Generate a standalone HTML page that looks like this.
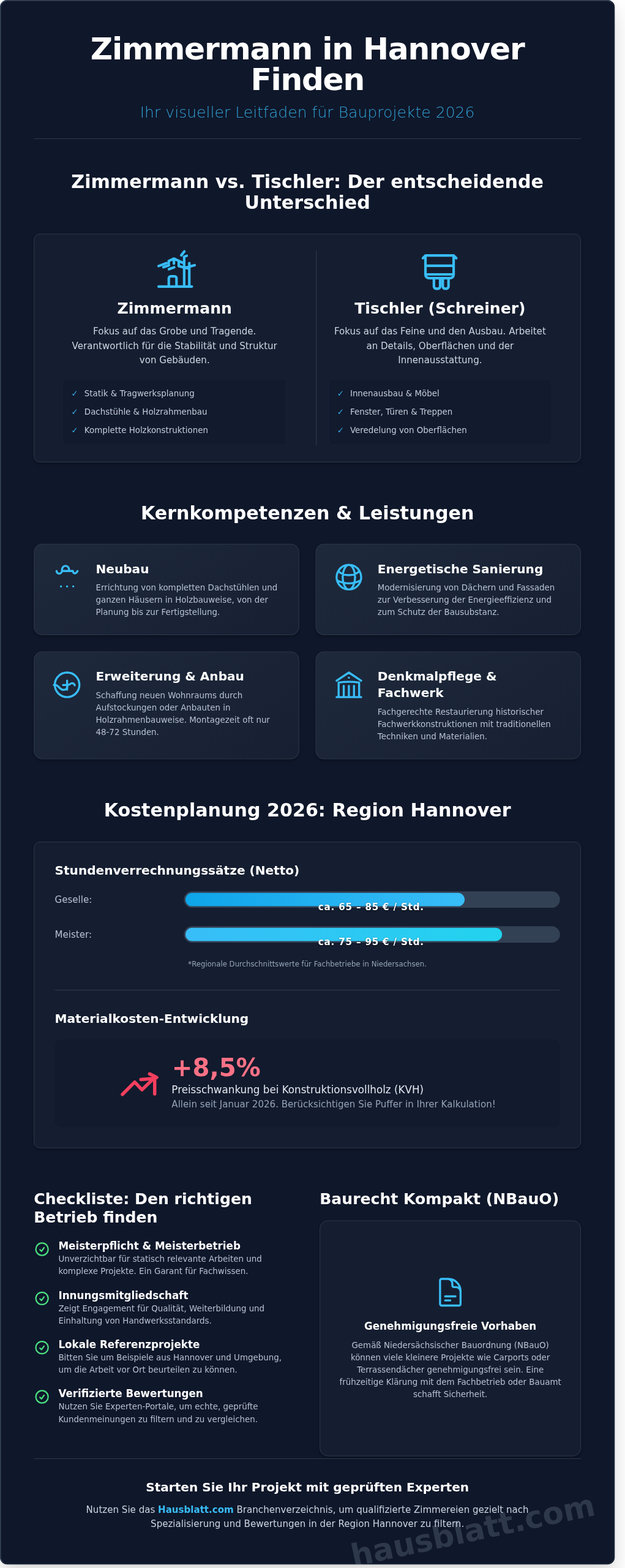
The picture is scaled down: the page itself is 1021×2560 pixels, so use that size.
<!DOCTYPE html>
<html lang="de">
<head>
<meta charset="utf-8">
<title>Zimmermann in Hannover Finden</title>
<style>
*{box-sizing:border-box;margin:0;padding:0}
html,body{width:1021px;height:2560px;overflow:hidden;background:#fff}
#scale{position:absolute;left:0;top:0;width:1220px;height:3059px;transform:scale(0.836885);transform-origin:0 0;font-family:"DejaVu Sans","Liberation Sans",sans-serif;color:#f1f5f9;font-size:16px;line-height:1.5}
.wrap{position:absolute;left:0;top:0;width:1200px;height:3052px;background:#0f172a;border-radius:14px;overflow:hidden;box-shadow:0 20px 40px rgba(0,0,0,.15)}
.edge{position:absolute;left:0;top:0;width:1200px;height:3052px;border:2px solid #334155;border-right-color:#1e293b;border-bottom-color:#1e293b;border-radius:14px}
.abs{position:absolute}
h1{position:absolute;left:66px;width:1068px;top:65px;font-size:60px;font-weight:bold;line-height:60px;letter-spacing:-1.5px;text-align:center;color:#fff}
.sub{position:absolute;left:66px;width:1068px;top:202.400px;font-size:30px;font-weight:300;color:#38bdf8;opacity:.82;text-align:center;line-height:36px}
.hr{position:absolute;left:66px;width:1068px;height:1px;background:#334155}
h2{position:absolute;left:66px;width:1068px;font-size:36px;font-weight:bold;text-align:center;color:#fff;line-height:40px}
.card{position:absolute;background:#151e30;border:1px solid #334155;border-radius:12px;box-shadow:0 4px 6px -1px rgba(0,0,0,.2),0 2px 4px -2px rgba(0,0,0,.2)}
svg{display:block}
.ic{fill:none;stroke:#38bdf8;stroke-width:1.5;stroke-linecap:round;stroke-linejoin:round}
/* compare */
.cmp .col{position:absolute;top:0;height:444px;text-align:center}
.cmp .col svg{position:absolute;left:50%;margin-left:-39px;top:32px;width:80px;height:80px}
.cmp h3{position:absolute;left:0;right:0;top:127.700px;font-size:30px;font-weight:bold;line-height:36px;color:#fff;white-space:nowrap}
.cmp p{position:absolute;left:-20px;right:-20px;top:176px;font-size:18px;line-height:28px;color:#cbd5e1}
.cmp ul{position:absolute;left:0;right:0;top:282.600px;height:128.600px;list-style:none;background:#121a2e;border:1px solid #1a2338;border-radius:8px;padding:15.500px 15px 0 16px;text-align:left}
.cmp li{font-size:16px;line-height:24px;margin-bottom:12px;color:#c3ccd9;white-space:nowrap}
.cmp li span{color:#38bdf8;margin-right:12px;opacity:.9}
.cmp .div{position:absolute;left:549.500px;top:32px;width:1px;height:379.500px;background:#334155}
/* services */
.svc{background:linear-gradient(145deg,#1e293b 0%,#162032 100%);padding:32px 32px 0 32px;border-radius:16px}
.svc svg{position:absolute;left:32px;top:32px;width:64px;height:64px}
.svc h3{margin-left:88px;font-size:24px;font-weight:bold;line-height:32px;color:#fff}
.svc p{margin-left:88px;margin-top:9.200px;font-size:16px;line-height:24px;color:#b6c1d1}
/* cost */
.cost h3{position:absolute;left:40px;font-size:24px;font-weight:bold;line-height:32px;color:#fff;white-space:nowrap}
.lbl{position:absolute;left:40px;font-size:18px;line-height:28px;color:#b6c1d1}
.track{position:absolute;left:291.500px;width:734px;height:32px;border-radius:16px;background:#334155}
.fill{position:absolute;left:3px;top:3px;height:26px;border-radius:14px}
.bt{position:absolute;left:-1px;width:734px;top:17px;text-align:center;font-size:18px;font-weight:bold;line-height:28px;letter-spacing:1px;color:#fff;text-shadow:0 1px 3px rgba(0,0,0,.6)}
.note{position:absolute;left:40px;width:986px;text-align:center;font-size:14px;line-height:20px;color:#94a3b8}
.inner{position:absolute;left:40px;width:986px;background:#121a2d;border-radius:12px}
/* checklist */
.h2l{position:absolute;font-size:30px;font-weight:bold;line-height:36px;color:#fff;text-align:left}
.chk{position:absolute;left:66px;width:500px}
.chk svg{position:absolute;left:0;top:4px;width:32px;height:32px;fill:none;stroke:#4ade80;stroke-width:2;stroke-linecap:round;stroke-linejoin:round}
.chk h4{margin-left:48px;font-size:20px;font-weight:bold;line-height:28px;color:#fff}
.chk p{margin-left:48px;font-size:16px;line-height:24px;color:#b6c1d1}
.law{text-align:center;border-radius:16px}
.law svg{margin:0 auto;width:64px;height:64px}
.law h4{font-size:20px;font-weight:bold;line-height:28px;color:#fff}
.law p{font-size:16px;line-height:24px;color:#b6c1d1}
.foot h3{font-size:24px;font-weight:bold;line-height:32px;color:#fff;text-align:center}
.foot p{font-size:18px;line-height:28px;color:#cbd5e1;text-align:center}
.foot b{color:#38bdf8}
.wm{position:absolute;font-size:60px;font-weight:bold;color:rgba(148,163,184,.24);transform:rotate(-12deg);transform-origin:0 100%;white-space:nowrap;line-height:1}

</style>
</head>
<body>
<div id="scale">
<div class="wrap">
<div class="edge"></div>
<h1>Zimmermann in Hannover<br>Finden</h1>
<p class="sub">Ihr visueller Leitfaden für Bauprojekte 2026</p>
<div class="hr" style="top:270px"></div>
<h2 style="top:335.300px">Zimmermann vs. Tischler: Der entscheidende<br>Unterschied</h2>
<div class="card cmp" style="left:66px;top:455.500px;width:1068px;height:446px">
  <div class="col" style="left:55.300px;width:437px">
    <svg viewBox="0 0 24 24" class="ic" style="overflow:visible"><path d="M2.25 21h19.5M8.25 21v-4.875c0-.621.504-1.125 1.125-1.125h2.25c.621 0 1.125.504 1.125 1.125V21M17.25 21V3.545M18.75 3l-1.5.545M20.25 21V7.3M15.55 2.75L17.35.45M2.25 9l4.5-1.636M5.1 9.7l3.2-1.1M8.3 10.85l3.1-1.13M8.2 7.9V6.07L11.25 4.67L17.25 7.5M11.25 4.67V7.6M14.1 6.1V9.05L19.4 10.35M17.25 10.1L23.4 8.5"/></svg>
    <h3>Zimmermann</h3>
    <p>Fokus auf das Grobe und Tragende.<br>Verantwortlich für die Stabilität und Struktur<br>von Gebäuden.</p>
    <ul><li><span>✓</span>Statik &amp; Tragwerksplanung</li><li><span>✓</span>Dachstühle &amp; Holzrahmenbau</li><li><span>✓</span>Komplette Holzkonstruktionen</li></ul>
  </div>
  <div class="div"></div>
  <div class="col" style="left:574px;width:436px">
    <svg viewBox="0 0 24 24" class="ic" style="overflow:visible;margin-left:-41px"><path d="M2.25 4.4 3.75 2.85h16.5l1.55 1.55M3.75 2.85V14c0 1.3 1 2.100 2.250 2.100h12c1.250 0 2.250-.8 2.250-2.100V2.850M3.750 8.850h16.500M3.750 13.900h16.500M8.700 16.100v4.800c0 .9.700 1.400 1.500 1.400h.650c.800 0 1.500-.5 1.500-1.400v-4.800M13.900 16.100v4.800c0 .9.700 1.400 1.500 1.400h.350c.800 0 1.500-.5 1.500-1.400v-4.800"/></svg>
    <h3>Tischler (Schreiner)</h3>
    <p>Fokus auf das Feine und den Ausbau. Arbeitet<br>an Details, Oberflächen und der<br>Innenausstattung.</p>
    <ul><li><span>✓</span>Innenausbau &amp; Möbel</li><li><span>✓</span>Fenster, Türen &amp; Treppen</li><li><span>✓</span>Veredelung von Oberflächen</li></ul>
  </div>
</div>
<h2 style="top:980.500px">Kernkompetenzen &amp; Leistungen</h2>
<div class="card svc" style="left:66px;top:1061px;width:518px;height:178px">
  <svg viewBox="0 0 24 24" class="ic"><path d="M4.25 7.5c.2 1.2 1 1.9 2 1.9 1.2 0 2-1 2-2.4 0-2 1-3.3 2.6-3.3s2.6 1.3 2.6 3.3v.5M8.25 7.5h8c.2 1.1.6 1.7 1.2 1.7.9 0 1.700-.700 2.200-1.700M7.500 18.750h.008v.008H7.500zM12 18.750h.008v.008H12zM16.500 18.750h.008v.008H16.500z"/></svg>
  <h3>Neubau</h3>
  <p>Errichtung von kompletten Dachstühlen und<br>ganzen Häusern in Holzbauweise, von der<br>Planung bis zur Fertigstellung.</p>
</div>
<div class="card svc" style="left:616px;top:1061px;width:518px;height:178px">
  <svg viewBox="0 0 24 24" class="ic"><path d="M12 21a9.004 9.004 0 0 0 8.716-6.747M12 21a9.004 9.004 0 0 1-8.716-6.747M12 21c2.485 0 4.500-4.030 4.500-9S14.485 3 12 3m0 18c-2.485 0-4.500-4.030-4.500-9S9.515 3 12 3m0 0a8.997 8.997 0 0 1 7.843 4.582M12 3a8.997 8.997 0 0 0-7.843 4.582m15.686 0A11.953 11.953 0 0 1 12 10.500c-2.998 0-5.740-1.100-7.843-2.918m15.686 0A8.959 8.959 0 0 1 21 12c0 .778-.099 1.533-.284 2.253m0 0A17.919 17.919 0 0 1 12 16.500c-3.162 0-6.133-.815-8.716-2.247m0 0A9.015 9.015 0 0 1 3 12c0-1.605.420-3.113 1.157-4.418"/></svg>
  <h3>Energetische Sanierung</h3>
  <p>Modernisierung von Dächern und Fassaden<br>zur Verbesserung der Energieeffizienz und<br>zum Schutz der Bausubstanz.</p>
</div>
<div class="card svc" style="left:66px;top:1271px;width:518px;height:210px">
  <svg viewBox="0 0 24 24" class="ic"><path d="M21 12a9 9 0 1 1-18 0 9 9 0 0 1 18 0ZM2.25 12.1h1.25c2 0 3.2 3.600 5.700 3.600 2 0 3.050-1.400 3.050-3.100M12 8.900v6.700M9 12.100h3.500c1.400 0 1.900-1.300 3.200-1.300 1 0 1.500.700 1.900 1.500"/></svg>
  <h3>Erweiterung &amp; Anbau</h3>
  <p>Schaffung neuen Wohnraums durch<br>Aufstockungen oder Anbauten in<br>Holzrahmenbauweise. Montagezeit oft nur<br>48-72 Stunden.</p>
</div>
<div class="card svc" style="left:616px;top:1271px;width:518px;height:210px">
  <svg viewBox="0 0 24 24" class="ic"><path d="M12 21v-8.250M15.750 21v-8.250M8.250 21v-8.250M3 9l9-6 9 6m-1.500 12V10.332A48.360 48.360 0 0 0 12 9.750c-2.551 0-5.056.200-7.500.582V21M3 21h18M12 6.750h.008v.008H12V6.750Z"/></svg>
  <h3>Denkmalpflege &amp;<br>Fachwerk</h3>
  <p>Fachgerechte Restaurierung historischer<br>Fachwerkkonstruktionen mit traditionellen<br>Techniken und Materialien.</p>
</div>
<h2 style="top:1561.200px">Kostenplanung 2026: Region Hannover</h2>
<div class="card cost" style="left:66px;top:1642px;width:1068px;height:598px">
  <h3 style="top:39px">Stundenverrechnungssätze (Netto)</h3>
  <div class="lbl" style="top:98px">Geselle:</div>
  <div class="track" style="top:96px"><div class="fill" style="width:545px;background:linear-gradient(90deg,#0ea5e9,#38bdf8)"></div><div class="bt">ca. 65 – 85 € / Std.</div></div>
  <div class="lbl" style="top:166px">Meister:</div>
  <div class="track" style="top:164px"><div class="fill" style="width:618px;background:linear-gradient(90deg,#38bdf8,#22d3ee)"></div><div class="bt">ca. 75 – 95 € / Std.</div></div>
  <div class="note" style="top:228px">*Regionale Durchschnittswerte für Fachbetriebe in Niedersachsen.</div>
  <div class="hr" style="left:40px;width:986px;top:288px"></div>
  <h3 style="top:328px">Materialkosten-Entwicklung</h3>
  <div class="inner" style="top:385px;height:171px">
    <svg class="abs" style="left:119.500px;top:47.200px;width:90px;height:90px" viewBox="0 0 90 90" fill="none" stroke="#f43f5e" stroke-width="6.500" stroke-linecap="round" stroke-linejoin="round"><path d="M12 60 36 36 50 51 72 30M48 31l26-2M65 20l14 7M75 30v29"/></svg>
    <div class="abs" style="left:228.500px;top:26px;font-size:48px;font-weight:bold;line-height:58px;color:#fb7185;white-space:nowrap">+8,5%</div>
    <div class="abs" style="left:228px;top:84px;font-size:20px;line-height:28px;color:#e2e8f0;white-space:nowrap">Preisschwankung bei Konstruktionsvollholz (KVH)</div>
    <div class="abs" style="left:228px;top:112.200px;font-size:18px;line-height:28px;color:#94a3b8;white-space:nowrap">Allein seit Januar 2026. Berücksichtigen Sie Puffer in Ihrer Kalkulation!</div>
  </div>
</div>
<div class="h2l" style="left:66px;top:2320.950px">Checkliste: Den richtigen<br>Betrieb finden</div>
<div class="chk" style="top:2416.9px"><svg viewBox="0 0 24 24"><path d="M9 12.750 11.250 15 15 9.750M21 12a9 9 0 1 1-18 0 9 9 0 0 1 18 0Z"/></svg><h4>Meisterpflicht &amp; Meisterbetrieb</h4><p>Unverzichtbar für statisch relevante Arbeiten und<br>komplexe Projekte. Ein Garant für Fachwissen.</p></div>
<div class="chk" style="top:2512.9px"><svg viewBox="0 0 24 24"><path d="M9 12.750 11.250 15 15 9.750M21 12a9 9 0 1 1-18 0 9 9 0 0 1 18 0Z"/></svg><h4>Innungsmitgliedschaft</h4><p>Zeigt Engagement für Qualität, Weiterbildung und<br>Einhaltung von Handwerksstandards.</p></div>
<div class="chk" style="top:2608.9px"><svg viewBox="0 0 24 24"><path d="M9 12.750 11.250 15 15 9.750M21 12a9 9 0 1 1-18 0 9 9 0 0 1 18 0Z"/></svg><h4>Lokale Referenzprojekte</h4><p>Bitten Sie um Beispiele aus Hannover und Umgebung,<br>um die Arbeit vor Ort beurteilen zu können.</p></div>
<div class="chk" style="top:2704.9px"><svg viewBox="0 0 24 24"><path d="M9 12.750 11.250 15 15 9.750M21 12a9 9 0 1 1-18 0 9 9 0 0 1 18 0Z"/></svg><h4>Verifizierte Bewertungen</h4><p>Nutzen Sie Experten-Portale, um echte, geprüfte<br>Kundenmeinungen zu filtern und zu vergleichen.</p></div>
<div class="h2l" style="left:624px;top:2320.950px">Baurecht Kompakt (NBauO)</div>
<div class="card law" style="left:624px;top:2381px;width:510px;height:460px">
  <svg viewBox="0 0 24 24" class="ic" style="margin-top:107px"><path d="M19.500 14.250v-2.625a3.375 3.375 0 0 0-3.375-3.375h-1.500A1.125 1.125 0 0 1 13.500 7.125v-1.500a3.375 3.375 0 0 0-3.375-3.375H8.250m0 12.750h7.500m-7.500 3H12M10.500 2.250H5.625c-.621 0-1.125.504-1.125 1.125v17.250c0 .621.504 1.125 1.125 1.125h12.750c.621 0 1.125-.504 1.125-1.125V11.250a9 9 0 0 0-9-9Z"/></svg>
  <h4 style="margin-top:20px">Genehmigungsfreie Vorhaben</h4>
  <p style="margin-top:12.300px">Gemäß Niedersächsischer Bauordnung (NBauO)<br>können viele kleinere Projekte wie Carports oder<br>Terrassendächer genehmigungsfrei sein. Eine<br>frühzeitige Klärung mit dem Fachbetrieb oder Bauamt<br>schafft Sicherheit.</p>
</div>
<div class="hr" style="top:2845px"></div>
<div class="wm" style="left:691.600px;top:3005.400px">hausblatt.com</div>
<div class="foot abs" style="left:66px;width:1068px;top:2885.600px">
  <h3>Starten Sie Ihr Projekt mit geprüften Experten</h3>
  <p style="margin-top:13px">Nutzen Sie das <b>Hausblatt.com</b> Branchenverzeichnis, um qualifizierte Zimmereien gezielt nach<br>Spezialisierung und Bewertungen in der Region Hannover zu filtern.</p>
</div>

</div>
</div>
</body>
</html>
